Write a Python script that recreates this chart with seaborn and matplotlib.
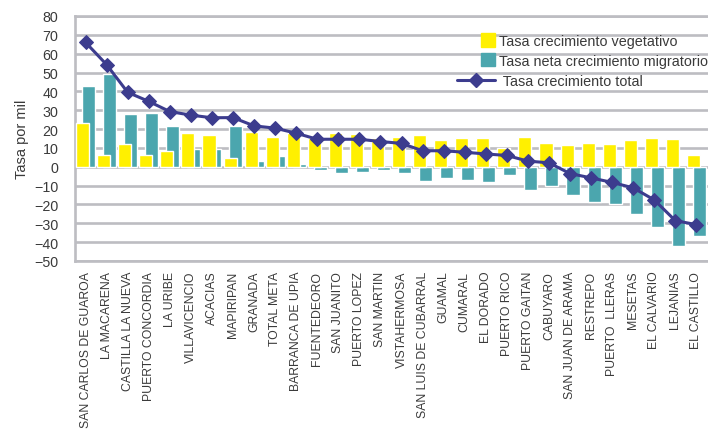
import numpy as np
import pandas as pd
import matplotlib
matplotlib.use("Agg")
import matplotlib.pyplot as plt
import matplotlib.patches as mpatches
from matplotlib.lines import Line2D
from matplotlib.legend_handler import HandlerPatch
import seaborn as sns

# municipios del Meta, ordenados por tasa total
municipios = ["SAN CARLOS DE GUAROA", "LA MACARENA", "CASTILLA LA NUEVA", "PUERTO CONCORDIA",
              "LA URIBE", "VILLAVICENCIO", "ACACIAS", "MAPIRIPAN", "GRANADA", "TOTAL META",
              "BARRANCA DE UPIA", "FUENTEDEORO", "SAN JUANITO", "PUERTO LOPEZ", "SAN MARTIN",
              "VISTAHERMOSA", "SAN LUIS DE CUBARRAL", "GUAMAL", "CUMARAL", "EL DORADO",
              "PUERTO RICO", "PUERTO GAITAN", "CABUYARO", "SAN JUAN DE ARAMA", "RESTREPO",
              "PUERTO  LLERAS", "MESETAS", "EL CALVARIO", "LEJANIAS", "EL CASTILLO"]
vegetativo = [23, 6, 12, 6.2, 8.4, 18, 17, 4.6, 18.7, 16,
              18.1, 15.5, 18, 17.4, 15.3, 15.8, 16.9, 14.2, 15.3, 15.3,
              10, 15.8, 12.6, 11.6, 12.6, 12.1, 14.2, 15.3, 14.8, 6.2]
migratorio = [43, 49, 28.1, 28.6, 21.7, 9.4, 9.4, 21.7, 3, 5.7,
              1.4, -1.6, -3.2, -2.7, -1.6, -3.2, -7.5, -5.9, -6.9, -8,
              -4.3, -12.3, -10.1, -14.9, -18.7, -19.7, -25, -32, -42.1, -36.8]
total = [66, 54.2, 39.5, 34.7, 29.3, 27.4, 26, 26.1, 21.7, 20.5,
         17.8, 14.6, 14.6, 14.6, 13.4, 12.4, 8.5, 8.5, 7.7, 6.8,
         6, 3, 2.1, -3.6, -5.9, -8.3, -11.2, -17.6, -28.6, -30.7]

amarillo = "#FFF000"
verde = "#4BA6AE"
azul = "#3C3C8E"
gris = "#BDBDC2"
texto = "#3A3A3A"

sns.set_style("white")
plt.rcParams['font.family'] = ['Liberation Sans', 'DejaVu Sans']
plt.rcParams['text.color'] = texto
plt.rcParams['axes.labelcolor'] = texto
plt.rcParams['xtick.color'] = texto
plt.rcParams['ytick.color'] = texto

pos = np.arange(len(municipios))
df = pd.DataFrame({"pos": pos, "veg": vegetativo, "mig": migratorio, "tot": total})

fig = plt.figure(figsize=(7.08, 4.39), dpi=100)
ax = fig.add_axes([75 / 708, 1 - 262 / 439, 1 - 75 / 708, (262 - 17) / 439])

# barras: migratorio detras, vegetativo delante
sns.barplot(x=df["pos"] + 0.14, y=df["mig"], native_scale=True, orient="x", width=0.62,
            color=verde, saturation=1, errorbar=None, ax=ax, zorder=2)
sns.barplot(x=df["pos"] - 0.14, y=df["veg"], native_scale=True, orient="x", width=0.62,
            color=amarillo, saturation=1, errorbar=None, ax=ax, zorder=3)
sns.lineplot(x=df["pos"], y=df["tot"], color=azul, linewidth=2.2, marker="D", markersize=7,
             markeredgecolor=azul, ax=ax, zorder=4)

ax.set_xlim(-0.5, len(municipios) - 0.45)
ax.set_ylim(-50, 80)
ax.set_yticks(range(-50, 81, 10))
ax.set_xticks(pos)
ax.set_xticklabels(municipios, rotation=90, fontsize=8.8)
ax.tick_params(axis="y", labelsize=10.3, length=0, pad=12)
ax.tick_params(axis="x", length=0, pad=7)
ax.set_xlabel("")
ax.set_ylabel("Tasa por mil", fontsize=10.5, labelpad=4)

ax.set_axisbelow(True)
ax.yaxis.grid(True, color=gris, linewidth=1.9)
ax.xaxis.grid(False)
for s in ["left", "bottom", "top"]:
    ax.spines[s].set_color(gris)
    ax.spines[s].set_linewidth(1.9)
ax.spines["right"].set_visible(False)


def cuadro(legend, orig_handle, xdescent, ydescent, width, height, fontsize):
    s = height * 1.3
    return mpatches.Rectangle((width - s - xdescent, -ydescent + (height - s) / 2), s, s)


handles = [mpatches.Patch(color=amarillo), mpatches.Patch(color=verde),
           Line2D([], [], color=azul, linewidth=2.2, marker="D", markersize=7)]
labels = ["Tasa crecimiento vegetativo", "Tasa neta crecimiento migratorio",
          " Tasa crecimiento total"]
fig.legend(handles, labels, loc="upper left", bbox_to_anchor=(457 / 708, 1 - 35 / 439),
           frameon=False, fontsize=10.4, handlelength=2.6, handletextpad=0.3,
           labelspacing=0.4, borderpad=0, borderaxespad=0,
           handler_map={mpatches.Patch: HandlerPatch(patch_func=cuadro)})

fig.savefig("out.png", dpi=100)
